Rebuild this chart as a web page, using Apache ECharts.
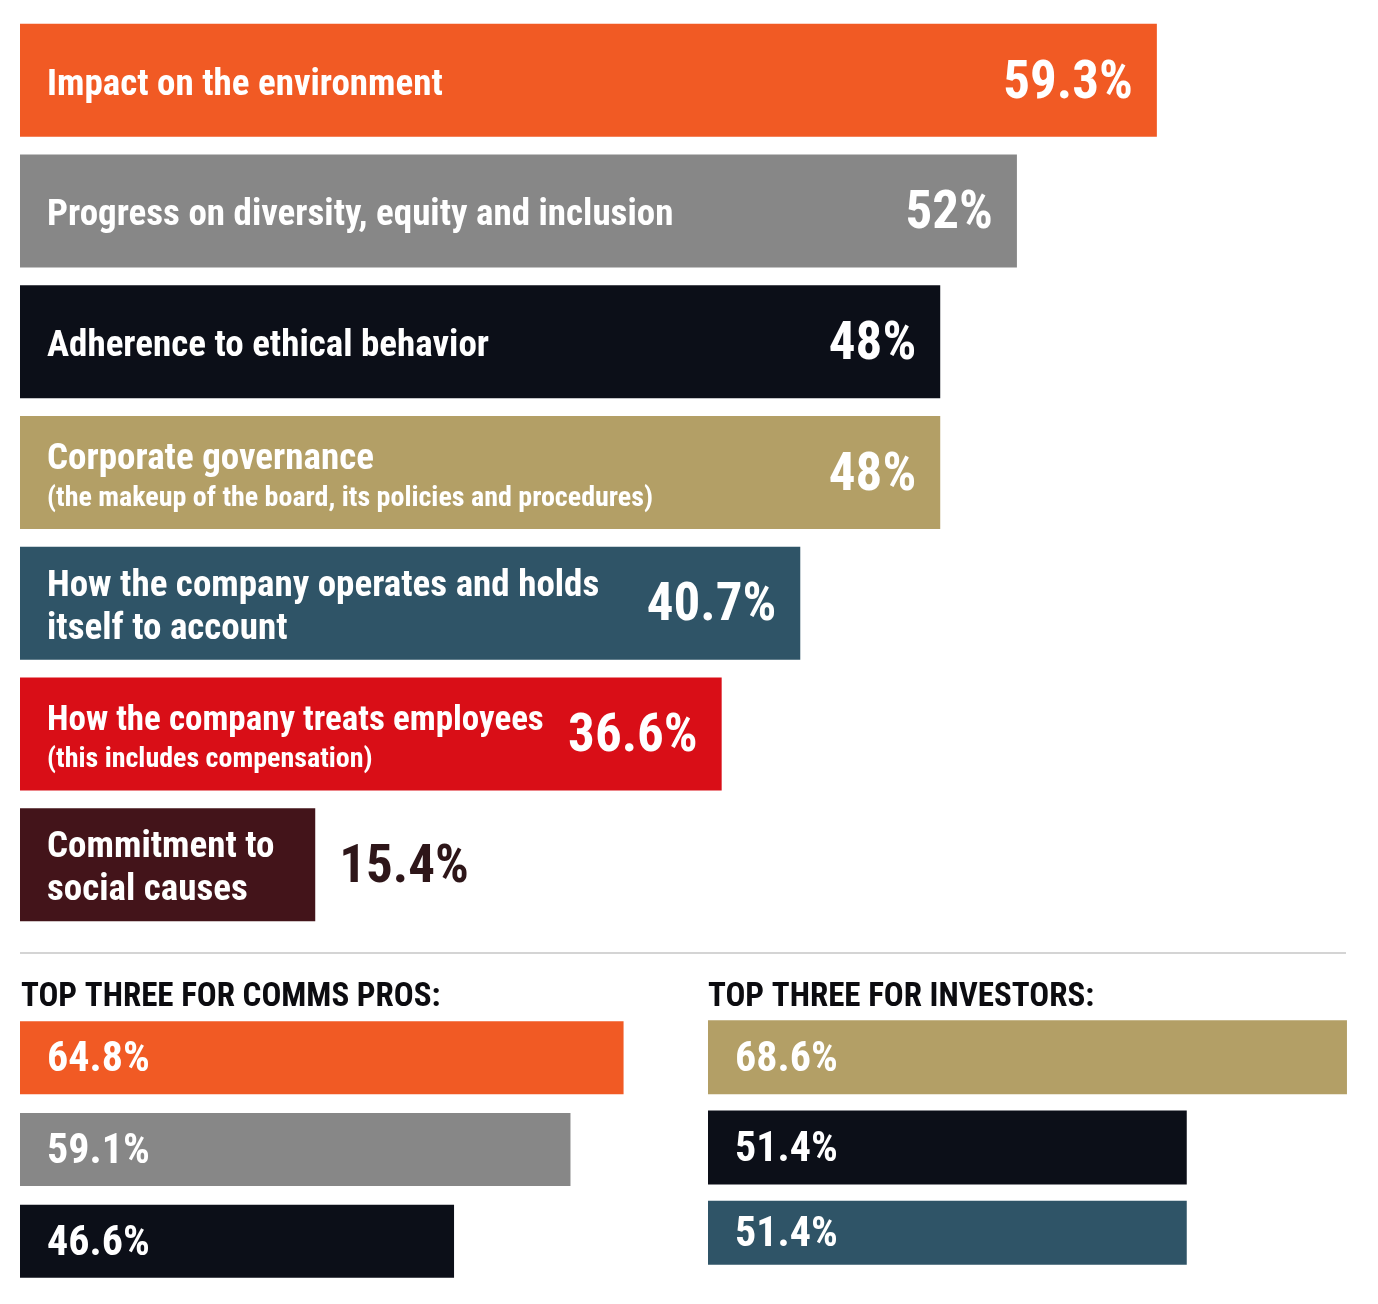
<!DOCTYPE html>
<html>
<head>
<meta charset="utf-8">
<script src="https://cdn.jsdelivr.net/npm/echarts@6/dist/echarts.min.js"></script>
<style>
  html, body { margin: 0; padding: 0; background: #ffffff; }
  #chart { width: 1378px; height: 1304px; }
</style>
</head>
<body>
<div id="chart"></div>
<script>
// ---------- DATA ----------
const mainCategories = [
  'Impact on the environment',
  'Progress on diversity, equity and inclusion',
  'Adherence to ethical behavior',
  'Corporate governance',
  'How the company operates and holds\nitself to account',
  'How the company treats employees',
  'Commitment to\nsocial causes'
];
const mainNotes = [
  '', '', '',
  '(the makeup of the board, its policies and procedures)',
  '',
  '(this includes compensation)',
  ''
];
const mainValues = [59.3, 52, 48, 48, 40.7, 36.6, 15.4];
const mainValueLabels = ['59.3%', '52%', '48%', '48%', '40.7%', '36.6%', '15.4%'];

const commsTitle = 'TOP THREE FOR COMMS PROS:';
const commsCategories = [
  'Impact on the environment',
  'Progress on diversity, equity and inclusion',
  'Adherence to ethical behavior'
];
const commsValues = [64.8, 59.1, 46.6];
const commsValueLabels = ['64.8%', '59.1%', '46.6%'];

const investorsTitle = 'TOP THREE FOR INVESTORS:';
const investorsCategories = [
  'Corporate governance',
  'Adherence to ethical behavior',
  'How the company operates and holds\nitself to account'
];
const investorsValues = [68.6, 51.4, 51.4];
const investorsValueLabels = ['68.6%', '51.4%', '51.4%'];

// ---------- STYLE ----------
const categoryColors = {
  'Impact on the environment': '#f15a24',
  'Progress on diversity, equity and inclusion': '#878787',
  'Adherence to ethical behavior': '#0c0f18',
  'Corporate governance': '#b39f66',
  'How the company operates and holds\nitself to account': '#2f5467',
  'How the company treats employees': '#d90e17',
  'Commitment to\nsocial causes': '#43141a'
};
const FONT = "'Roboto Condensed', 'Open Sans Condensed', 'DejaVu Sans Condensed', sans-serif";
const outsideColor = '#2e1619';

const chart = echarts.init(document.getElementById('chart'), null, { renderer: 'canvas' });

function hiddenValueAxis(gridIndex) {
  return {
    type: 'value', gridIndex: gridIndex, min: 0, max: 70,
    show: false, splitLine: { show: false }
  };
}
function hiddenCategoryAxis(gridIndex, cats) {
  return {
    type: 'category', gridIndex: gridIndex, data: cats, inverse: true,
    show: false, axisLine: { show: false }, axisTick: { show: false }, axisLabel: { show: false }
  };
}

// name lines that sit next to a long value label use a tighter style
function nameStyleKey(i, line) {
  return (mainNotes[i] && line.length > 25) ? 'ts' : 't';
}

const smallLabel = {
  show: true, position: 'insideLeft', distance: 27, offset: [0, 3],
  fontFamily: FONT, fontWeight: 'bold', fontSize: 42, color: '#ffffff'
};

const lastInvestor = investorsValues.length - 1;

const option = {
  animation: false,
  backgroundColor: '#ffffff',
  title: [
    {
      text: commsTitle, left: 21, top: 981, padding: 0,
      textStyle: { fontFamily: FONT, fontWeight: 'bold', fontSize: 33, color: '#0c0c10' }
    },
    {
      text: investorsTitle, left: 708, top: 981, padding: 0,
      textStyle: { fontFamily: FONT, fontWeight: 'bold', fontSize: 33, color: '#0c0c10' }
    }
  ],
  graphic: [
    {
      type: 'rect', left: 20, top: 952, silent: true,
      shape: { width: 1326, height: 2 },
      style: { fill: '#d4d4d4' }
    }
  ],
  grid: [
    { left: 20, top: 15, width: 1342, height: 915 },
    { left: 20, top: 1012, width: 652, height: 275 },
    { left: 708, top: 1007, width: 652, height: 271 }
  ],
  xAxis: [hiddenValueAxis(0), hiddenValueAxis(1), hiddenValueAxis(2)],
  yAxis: [
    hiddenCategoryAxis(0, mainCategories),
    hiddenCategoryAxis(1, commsCategories),
    hiddenCategoryAxis(2, investorsCategories)
  ],
  series: [
    // main bars with category names
    {
      type: 'bar', xAxisIndex: 0, yAxisIndex: 0, barWidth: 113, barGap: '-100%',
      data: mainValues.map((v, i) => ({
        value: v,
        itemStyle: { color: categoryColors[mainCategories[i]] }
      })),
      label: {
        show: true, position: 'insideLeft', distance: 27,
        formatter: (p) => {
          const i = p.dataIndex;
          const lines = mainCategories[i].split('\n').map(l => '{' + nameStyleKey(i, l) + '|' + l + '}');
          if (mainNotes[i]) lines.push('{n|' + mainNotes[i] + '}');
          return lines.join('\n');
        },
        padding: [10, 0, 0, 0],
        rich: {
          t: { fontFamily: FONT, fontWeight: 'bold', fontSize: 37, color: '#ffffff', lineHeight: 43 },
          ts: { fontFamily: FONT, fontWeight: 'bold', fontSize: 35, color: '#ffffff', lineHeight: 43 },
          n: { fontFamily: FONT, fontWeight: 'bold', fontSize: 28, color: '#ffffff', lineHeight: 36 }
        }
      }
    },
    // value labels for main bars
    {
      type: 'bar', xAxisIndex: 0, yAxisIndex: 0, barWidth: 113, barGap: '-100%', silent: true,
      itemStyle: { color: 'rgba(0,0,0,0)' },
      data: mainValues.map((v) => (v < 20
        ? { value: v, label: { position: 'right', color: outsideColor } }
        : v)),
      label: {
        show: true, position: 'insideRight', distance: 24, offset: [0, 4],
        formatter: (p) => mainValueLabels[p.dataIndex],
        fontFamily: FONT, fontWeight: 'bold', fontSize: 53, color: '#ffffff'
      }
    },
    // comms pros
    {
      type: 'bar', xAxisIndex: 1, yAxisIndex: 1, barWidth: 73,
      data: commsValues.map((v, i) => ({
        value: v, itemStyle: { color: categoryColors[commsCategories[i]] }
      })),
      label: Object.assign({}, smallLabel, { formatter: (p) => commsValueLabels[p.dataIndex] })
    },
    // investors (full-height bars)
    {
      type: 'bar', xAxisIndex: 2, yAxisIndex: 2, barWidth: 74, barGap: '-100%',
      data: investorsValues.map((v, i) => (i < lastInvestor
        ? { value: v, itemStyle: { color: categoryColors[investorsCategories[i]] } }
        : '-')),
      label: Object.assign({}, smallLabel, { formatter: (p) => investorsValueLabels[p.dataIndex] })
    },
    // investors (last bar is drawn slightly shorter in the original)
    {
      type: 'bar', xAxisIndex: 2, yAxisIndex: 2, barWidth: 64, barGap: '-100%',
      data: investorsValues.map((v, i) => (i === lastInvestor
        ? { value: v, itemStyle: { color: categoryColors[investorsCategories[i]] } }
        : '-')),
      label: Object.assign({}, smallLabel, { formatter: (p) => investorsValueLabels[p.dataIndex] })
    }
  ]
};

chart.setOption(option);
</script>
</body>
</html>
